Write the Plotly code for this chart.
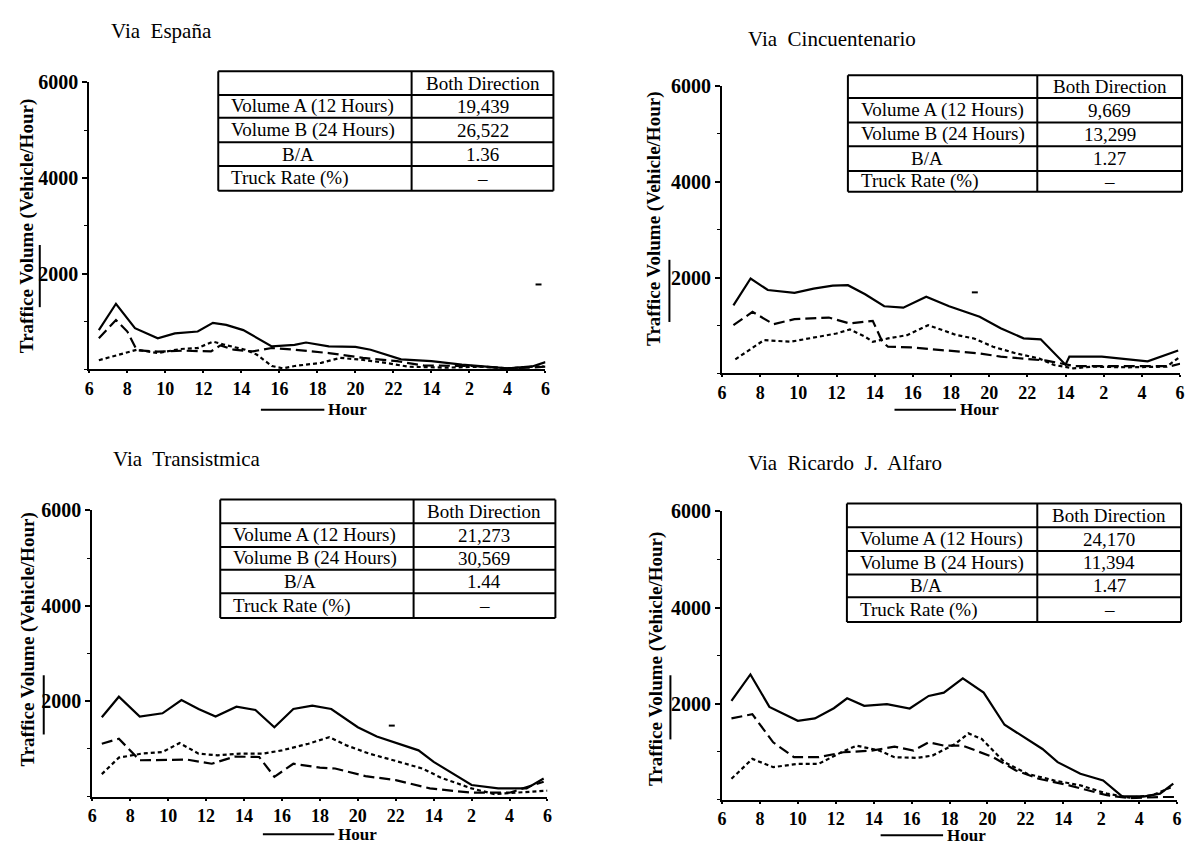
import plotly.graph_objects as go

# page body adds an 8px margin, so the figure is drawn 8px in from the corner
OFF = 8
W, H = 1194 - OFF, 846 - OFF

# ---------------- data ----------------
HOUR_TICKS = [6, 8, 10, 12, 14, 16, 18, 20, 22, 24, 26, 28, 30]
HOUR_LABELS = ["6", "8", "10", "12", "14", "16", "18", "20", "22", "14", "2", "4", "6"]
Y_TICKS = [2000, 4000, 6000]

TITLES = ["Via  España", "Via  Cincuentenario", "Via  Transistmica", "Via  Ricardo  J.  Alfaro"]
ROW_LABELS = ["Volume A (12 Hours)", "Volume B (24 Hours)", "B/A", "Truck Rate (%)"]
COL_HEADER = "Both Direction"
ESPANA_TABLE = ["19,439", "26,522", "1.36", "–"]
CINC_TABLE = ["9,669", "13,299", "1.27", "–"]
TRANS_TABLE = ["21,273", "30,569", "1.44", "–"]
ALFARO_TABLE = ["24,170", "11,394", "1.47", "–"]

# Via España
ESP_SOLID_H = [6.5, 7.4, 8.4, 9.6, 10.5, 11.7, 12.5, 13.2, 14.1, 15.6, 16.8, 17.4, 18.6, 20.0, 20.8, 22.4, 24.0, 25.6, 28.0, 29.3, 30.0]
ESP_SOLID_V = [820, 1370, 860, 650, 750, 790, 970, 930, 820, 480, 510, 560, 480, 470, 410, 210, 170, 100, 20, 60, 150]
ESP_LONG_H = [6.5, 7.4, 8.0, 8.5, 9.6, 11.0, 12.4, 12.9, 13.6, 14.6, 15.6, 16.8, 18.6, 20.4, 22.2, 23.6, 26.2, 28.0, 29.2, 30.0]
ESP_LONG_V = [650, 1030, 790, 400, 370, 390, 375, 500, 410, 375, 445, 410, 340, 240, 170, 80, 70, 20, 35, 55]
ESP_SHORT_H = [6.5, 7.6, 8.5, 9.6, 10.8, 11.7, 12.5, 13.1, 14.2, 14.8, 15.6, 16.2, 16.8, 18.2, 19.2, 20.2, 21.6, 22.8, 24.8, 26.6, 28.0, 29.9]
ESP_SHORT_V = [190, 310, 410, 340, 425, 445, 580, 515, 410, 310, 70, 20, 70, 135, 240, 205, 135, 55, 35, 55, 20, 70]

# Via Cincuentenario
CIN_SOLID_H = [6.6, 7.5, 8.4, 9.8, 10.8, 11.8, 12.6, 13.5, 14.5, 15.5, 16.7, 17.9, 19.5, 20.6, 21.8, 22.7, 24.0, 24.2, 25.9, 28.3, 29.9]
CIN_SOLID_V = [1420, 1980, 1740, 1680, 1770, 1830, 1840, 1650, 1400, 1370, 1600, 1400, 1180, 940, 730, 710, 180, 350, 350, 250, 475]
CIN_LONG_H = [6.6, 7.6, 8.7, 9.8, 11.6, 12.7, 13.9, 14.4, 14.7, 15.9, 17.5, 19.5, 20.6, 21.8, 23.0, 24.5, 27.0, 29.5, 30.0]
CIN_LONG_V = [1005, 1283, 1026, 1130, 1165, 1040, 1096, 659, 555, 541, 485, 416, 347, 312, 264, 150, 145, 150, 200]
CIN_SHORT_H = [6.7, 8.2, 9.6, 10.8, 12.0, 12.7, 13.5, 13.9, 14.7, 15.7, 16.8, 18.3, 19.2, 20.2, 21.4, 22.6, 23.4, 24.4, 25.4, 27.3, 29.3, 30.0]
CIN_SHORT_V = [291, 693, 659, 742, 832, 915, 763, 659, 728, 797, 1006, 797, 728, 555, 416, 312, 173, 104, 139, 125, 139, 347]

# Via Transistmica
TRA_SOLID_H = [6.5, 7.4, 8.5, 9.7, 10.7, 11.6, 12.5, 13.6, 14.6, 15.6, 16.6, 17.6, 18.6, 20.0, 21.0, 22.2, 23.2, 24.0, 25.0, 26.0, 27.4, 28.9, 29.8]
TRA_SOLID_V = [1665, 2095, 1679, 1748, 2025, 1838, 1679, 1887, 1817, 1456, 1838, 1907, 1838, 1456, 1262, 1096, 971, 728, 486, 243, 173, 173, 381]
TRA_LONG_H = [6.5, 7.4, 8.5, 9.8, 11.0, 12.3, 13.5, 14.8, 15.6, 16.6, 18.0, 18.8, 20.4, 22.0, 23.8, 26.0, 28.0, 29.8]
TRA_LONG_V = [1110, 1214, 763, 763, 777, 690, 840, 832, 416, 690, 610, 590, 430, 347, 173, 83, 83, 312]
TRA_SHORT_H = [6.5, 7.4, 8.6, 9.7, 10.6, 11.6, 12.6, 13.8, 15.0, 16.0, 17.4, 18.5, 19.4, 20.6, 22.0, 23.4, 24.4, 26.0, 27.2, 28.4, 30.0]
TRA_SHORT_V = [472, 818, 902, 936, 1124, 902, 867, 902, 902, 971, 1110, 1248, 1075, 902, 749, 590, 395, 173, 55, 83, 125]

# Via Ricardo J. Alfaro
ALF_SOLID_H = [6.5, 7.5, 8.5, 10.0, 10.9, 11.9, 12.6, 13.5, 14.7, 15.9, 16.9, 17.7, 18.7, 19.8, 20.9, 22.1, 22.9, 23.7, 24.9, 26.1, 27.1, 28.3, 29.1, 29.8]
ALF_SOLID_V = [2055, 2607, 1931, 1641, 1690, 1903, 2110, 1952, 1986, 1897, 2159, 2228, 2524, 2228, 1559, 1262, 1055, 779, 538, 400, 69, 69, 124, 331]
ALF_LONG_H = [6.5, 7.6, 8.7, 9.8, 11.1, 12.4, 13.9, 15.1, 16.1, 16.9, 17.7, 18.7, 20.3, 21.5, 22.7, 24.3, 26.3, 27.5, 29.1, 30.0]
ALF_LONG_V = [1690, 1779, 1193, 883, 883, 986, 1021, 1103, 1021, 1193, 1124, 1124, 883, 607, 434, 297, 90, 30, 55, 55]
ALF_SHORT_H = [6.5, 7.6, 8.7, 10.0, 11.1, 12.3, 13.1, 14.3, 15.1, 16.3, 17.1, 18.3, 19.0, 19.7, 20.9, 22.1, 23.5, 24.9, 26.3, 27.5, 28.7, 29.7]
ALF_SHORT_V = [434, 848, 676, 745, 745, 986, 1124, 1021, 883, 869, 917, 1159, 1379, 1262, 779, 538, 400, 297, 124, 41, 90, 262]

SERIES = [
    [(ESP_SOLID_H, ESP_SOLID_V), (ESP_LONG_H, ESP_LONG_V), (ESP_SHORT_H, ESP_SHORT_V)],
    [(CIN_SOLID_H, CIN_SOLID_V), (CIN_LONG_H, CIN_LONG_V), (CIN_SHORT_H, CIN_SHORT_V)],
    [(TRA_SOLID_H, TRA_SOLID_V), (TRA_LONG_H, TRA_LONG_V), (TRA_SHORT_H, TRA_SHORT_V)],
    [(ALF_SOLID_H, ALF_SOLID_V), (ALF_LONG_H, ALF_LONG_V), (ALF_SHORT_H, ALF_SHORT_V)],
]
TABLES = [ESPANA_TABLE, CINC_TABLE, TRANS_TABLE, ALFARO_TABLE]

# ---------------- layout geometry (page pixels) ----------------
PLOTS = [  # x0, x1, ytop, ybottom
    (85, 545, 72, 363),
    (723, 1185, 76, 367),
    (88, 547, 506, 796),
    (723, 1182, 507, 799),
]
TITLE_POS = [(105, 20), (747, 28), (107, 454), (747, 458)]
YLABEL_POS = [(22, 218), (655, 211), (23, 637), (657, 657)]
TABLE_GEOM = [
    (215, 410, 553, [61, 85, 108, 133, 157, 182]),
    (850, 1041, 1187, [65, 88, 113, 137, 162, 183]),
    (217, 412, 555, [495, 519, 543, 566, 590, 615]),
    (849, 1041, 1186, [499, 523, 547, 571, 594, 619]),
]
HOUR_POS = [(258, 322, 404), (897, 959, 404), (260, 332, 834), (883, 946, 835)]
BARS = [(35, 237, 300), (670, 252, 315), (39, 673, 733), (671, 673, 738)]
SPECKS = [(535, 541, 277), (975, 981, 285), (387, 393, 724)]

FONT = "Liberation Serif"


def px(x):
    return (x - OFF) / W


def py(y):
    return 1 - (y - OFF) / H


fig = go.Figure()
shapes = []
annotations = []

dashes = ["solid", "11px,5px", "4px,3px"]

for i in range(4):
    sfx = "" if i == 0 else str(i + 1)
    x0, x1, yt, yb = PLOTS[i]
    for (hx, vy), dash in zip(SERIES[i], dashes):
        fig.add_trace(go.Scatter(
            x=hx, y=vy, mode="lines",
            line=dict(color="black", width=2.2, dash=dash),
            xaxis="x" + sfx, yaxis="y" + sfx, showlegend=False,
            hoverinfo="skip",
        ))
    fig.update_layout(**{
        "xaxis" + sfx: dict(
            domain=[px(x0), px(x1)], anchor="y" + sfx, range=[6, 30],
            tickvals=HOUR_TICKS, ticktext=HOUR_LABELS,
            showline=True, linecolor="black", linewidth=2,
            ticks="outside", ticklen=2, tickwidth=2, tickcolor="black",
            showgrid=False, zeroline=False,
            tickfont=dict(family=FONT, size=18, color="black", weight="bold"),
        ),
        "yaxis" + sfx: dict(
            domain=[py(yb), py(yt)], anchor="x" + sfx, range=[0, 6000],
            tickvals=Y_TICKS,
            showline=True, linecolor="black", linewidth=2,
            ticks="outside", ticklen=5, tickwidth=2, tickcolor="black",
            minor=dict(dtick=1000, ticks="outside", ticklen=3, tickwidth=1, tickcolor="black"),
            showgrid=False, zeroline=False,
            tickfont=dict(family=FONT, size=20, color="black", weight="bold"),
        ),
    })

    # title
    tx, ty = TITLE_POS[i]
    annotations.append(dict(
        x=px(tx), y=py(ty), xref="paper", yref="paper", xanchor="left", yanchor="middle",
        text=TITLES[i], showarrow=False,
        font=dict(family=FONT, size=21, color="black"),
    ))
    # y label
    lx, ly = YLABEL_POS[i]
    annotations.append(dict(
        x=px(lx), y=py(ly), xref="paper", yref="paper", xanchor="center", yanchor="middle",
        text="Traffice Volume (Vehicle/Hour)", textangle=-90, showarrow=False,
        font=dict(family=FONT, size=19, color="black", weight="bold"),
    ))
    # bar beside y label
    bx, by0, by1 = BARS[i]
    shapes.append(dict(type="line", xref="paper", yref="paper",
                       x0=px(bx), x1=px(bx), y0=py(by0), y1=py(by1),
                       line=dict(color="black", width=2)))
    # Hour label
    hx0, hx1, hy = HOUR_POS[i]
    shapes.append(dict(type="line", xref="paper", yref="paper",
                       x0=px(hx0), x1=px(hx1), y0=py(hy), y1=py(hy),
                       line=dict(color="black", width=2)))
    annotations.append(dict(
        x=px(hx1 + 3), y=py(hy), xref="paper", yref="paper", xanchor="left", yanchor="middle",
        text="Hour", showarrow=False, borderpad=0,
        font=dict(family=FONT, size=17, color="black", weight="bold"),
    ))
    # table
    tl, ts, tr, rows = TABLE_GEOM[i]
    for yy in rows:
        shapes.append(dict(type="line", xref="paper", yref="paper",
                           x0=px(tl), x1=px(tr), y0=py(yy), y1=py(yy),
                           line=dict(color="black", width=2)))
    for xx in (tl, ts, tr):
        shapes.append(dict(type="line", xref="paper", yref="paper",
                           x0=px(xx), x1=px(xx), y0=py(rows[0]), y1=py(rows[-1]),
                           line=dict(color="black", width=2)))
    ccol = (ts + tr) / 2
    annotations.append(dict(
        x=px(ccol), y=py((rows[0] + rows[1]) / 2), xref="paper", yref="paper",
        xanchor="center", yanchor="middle", text=COL_HEADER, showarrow=False,
        font=dict(family=FONT, size=19, color="black"),
    ))
    for r in range(4):
        ymid = (rows[r + 1] + rows[r + 2]) / 2
        lab = ROW_LABELS[r]
        lxp = tl + (62 if lab == "B/A" else 11)
        annotations.append(dict(
            x=px(lxp), y=py(ymid), xref="paper", yref="paper",
            xanchor="left", yanchor="middle", text=lab, showarrow=False,
            font=dict(family=FONT, size=19, color="black"),
        ))
        annotations.append(dict(
            x=px(ccol), y=py(ymid), xref="paper", yref="paper",
            xanchor="center", yanchor="middle", text=TABLES[i][r], showarrow=False,
            font=dict(family=FONT, size=19, color="black"),
        ))

for sx0, sx1, sy in SPECKS:
    shapes.append(dict(type="line", xref="paper", yref="paper",
                       x0=px(sx0), x1=px(sx1), y0=py(sy), y1=py(sy),
                       line=dict(color="black", width=2)))

fig.update_layout(
    width=W, height=H, margin=dict(l=0, r=0, t=0, b=0),
    paper_bgcolor="white", plot_bgcolor="white",
    shapes=shapes, annotations=annotations, showlegend=False,
)

fig.write_html("out.html")
